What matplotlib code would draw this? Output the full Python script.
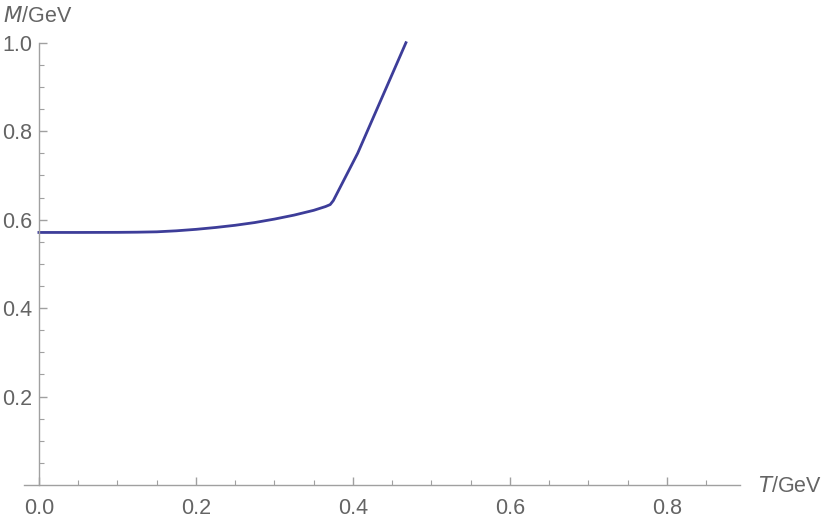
import matplotlib
matplotlib.use("Agg")
import matplotlib.pyplot as plt
from matplotlib.ticker import MultipleLocator, FixedLocator

# Data
T = [0.0, 0.05, 0.10, 0.125, 0.15, 0.175, 0.20, 0.225, 0.25, 0.275, 0.30, 0.325, 0.35,
     0.365, 0.371, 0.375, 0.406, 0.4675]
M = [0.571, 0.571, 0.5712, 0.5716, 0.5724, 0.5747, 0.5780, 0.5822, 0.5872, 0.5934,
     0.6012, 0.6102, 0.6210, 0.6295, 0.6340, 0.6430, 0.7500, 1.0000]

x_ticks = [0.0, 0.2, 0.4, 0.6, 0.8]
x_tick_labels = ["0.0", "0.2", "0.4", "0.6", "0.8"]
y_ticks = [0.2, 0.4, 0.6, 0.8, 1.0]
y_tick_labels = ["0.2", "0.4", "0.6", "0.8", "1.0"]

plt.rcParams['font.family'] = ['Liberation Sans', 'DejaVu Sans']
text_color = '#646464'
axis_color = '#a0a0a0'
fs = 15.5

fig = plt.figure(figsize=(8.30, 5.26), dpi=100)
ax = fig.add_axes([24/830, 41/526, (740-24)/830, (485-42.7)/526])

ax.plot(T, M, color='#3d3d99', lw=2.0, clip_on=False, solid_joinstyle='round')

ax.set_xlim(-0.019, 0.893)
ax.set_ylim(0.0, 1.0)

for s in ['top', 'right']:
    ax.spines[s].set_visible(False)
ax.spines['left'].set_position(('data', 0))
ax.spines['bottom'].set_position(('data', 0))
for s in ['left', 'bottom']:
    ax.spines[s].set_color(axis_color)
    ax.spines[s].set_linewidth(1.0)

ax.xaxis.set_major_locator(FixedLocator(x_ticks))
ax.set_xticklabels(x_tick_labels)
ax.xaxis.set_minor_locator(MultipleLocator(0.05))
ax.yaxis.set_major_locator(FixedLocator(y_ticks))
ax.set_yticklabels(y_tick_labels)
ax.yaxis.set_minor_locator(FixedLocator([0.05*i for i in range(1, 20) if i % 4 != 0]))

ax.tick_params(axis='both', which='major', direction='in', length=6, width=1.0,
               color=axis_color, labelcolor=text_color, labelsize=fs)
ax.tick_params(axis='both', which='minor', direction='in', length=3.5, width=0.8,
               color=axis_color)
ax.tick_params(axis='x', which='major', pad=9)
ax.tick_params(axis='y', which='major', pad=5)

fig.text(3/830, 1 - 16/526, r'$\it{M}$/GeV', color=text_color, fontsize=fs,
         ha='left', va='center', family=['Liberation Sans', 'DejaVu Sans'])
fig.text(758/830, 1 - 487/526, r'$\it{T}$/GeV', color=text_color, fontsize=fs,
         ha='left', va='center', family=['Liberation Sans', 'DejaVu Sans'])

fig.savefig('out.png', dpi=100)
